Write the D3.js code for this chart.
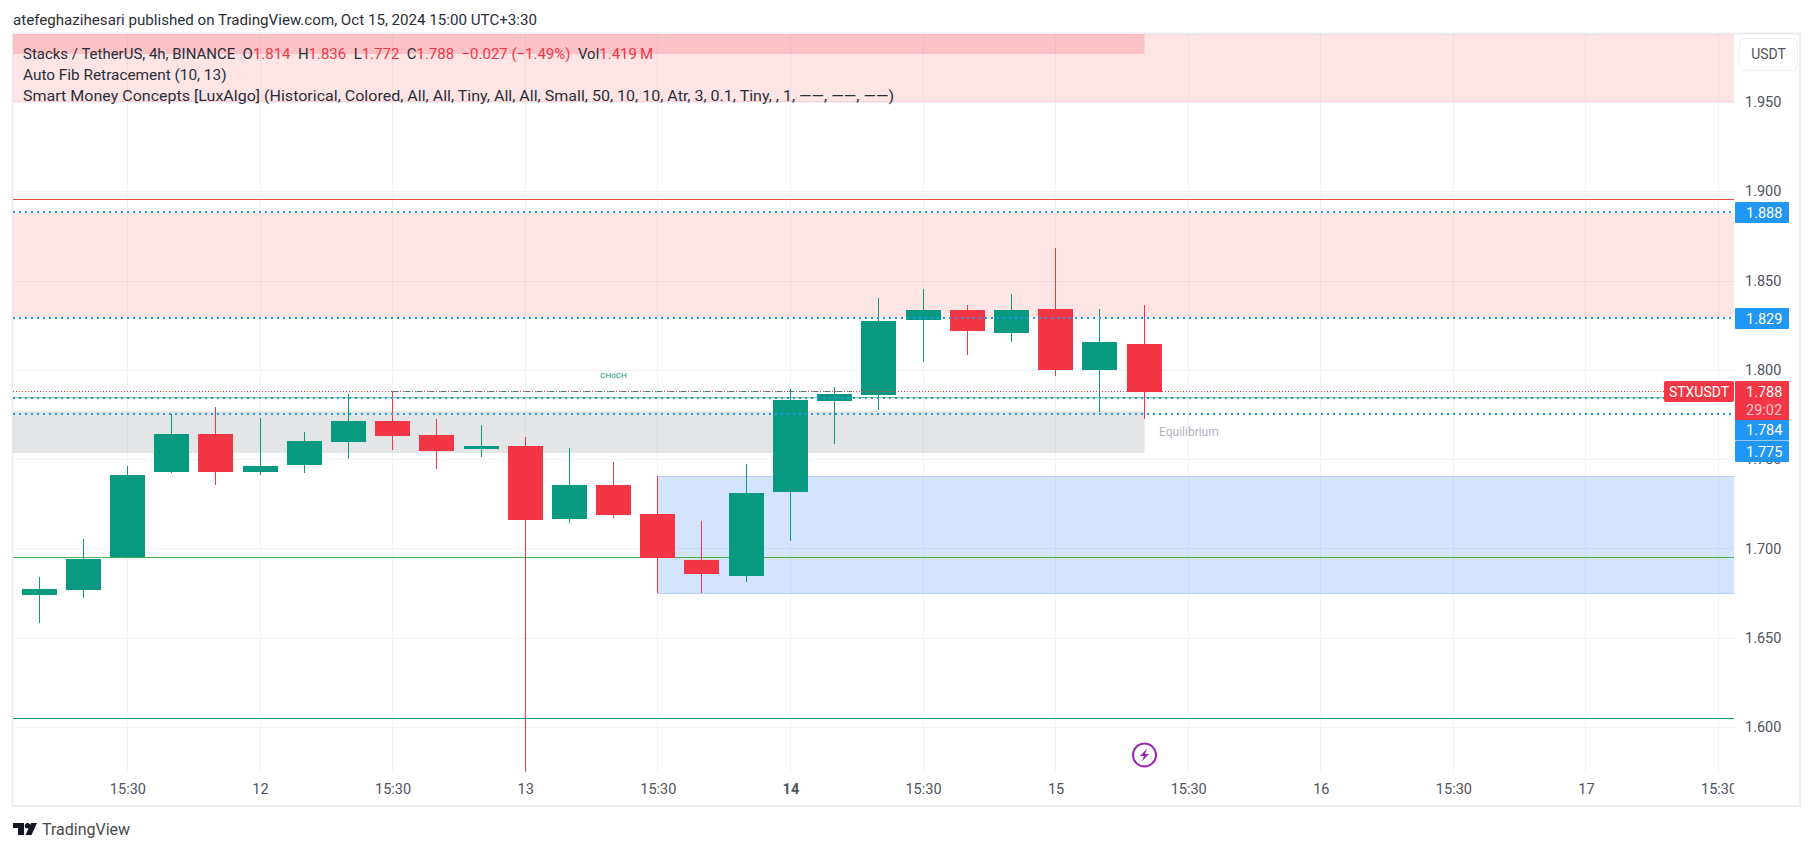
<!DOCTYPE html>
<html>
<head>
<meta charset="utf-8">
<script src="https://cdn.jsdelivr.net/npm/d3@7"></script>
<style>
  html, body { margin: 0; padding: 0; background: #fff; }
  svg { display: block; }
  text { font-family: Roboto, sans-serif; }
</style>
</head>
<body>
<div id="chart"></div>
<script>
// 4h candles, oldest first
const opens  = [1.6739, 1.6767, 1.6950, 1.7428, 1.7641, 1.7428, 1.7467, 1.7596, 1.7714, 1.7635, 1.7557, 1.7574, 1.7165, 1.7355, 1.7193, 1.6935, 1.6846, 1.7316, 1.7826, 1.7859, 1.8279, 1.8335, 1.8206, 1.8341, 1.7999, 1.8145];
const highs  = [1.6840, 1.7053, 1.7462, 1.7753, 1.7792, 1.7730, 1.7652, 1.7865, 1.7878, 1.7725, 1.7691, 1.7624, 1.7562, 1.7484, 1.7406, 1.7154, 1.7473, 1.7893, 1.7904, 1.8402, 1.8453, 1.8363, 1.8425, 1.8682, 1.8341, 1.8363];
const lows   = [1.6582, 1.6722, 1.6950, 1.7422, 1.7355, 1.7411, 1.7422, 1.7501, 1.7551, 1.7445, 1.7512, 1.5750, 1.7142, 1.7170, 1.6750, 1.6750, 1.6812, 1.7042, 1.7585, 1.7775, 1.8044, 1.8083, 1.8156, 1.7966, 1.7764, 1.7725];
const closes = [1.6773, 1.6941, 1.7411, 1.7641, 1.7428, 1.7462, 1.7602, 1.7714, 1.7630, 1.7546, 1.7574, 1.7159, 1.7355, 1.7187, 1.6946, 1.6857, 1.7310, 1.7831, 1.7865, 1.8274, 1.8335, 1.8218, 1.8335, 1.7999, 1.8156, 1.7876];

const priceTicks = [1.95, 1.9, 1.85, 1.8, 1.75, 1.7, 1.65, 1.6];
const timeTickBars = [2, 5, 8, 11, 14, 17, 20, 23, 26, 29, 32, 35, 38];
const timeTickLabels = ['15:30', '12', '15:30', '13', '15:30', '14', '15:30', '15', '15:30', '16', '15:30', '17', '15:30'];

const width = 1814;
const height = 851;
const plot = { left: 13, right: 1734, top: 34, bottom: 772 };

const UP = '#089981';
const DOWN = '#f23645';
const BLUE = '#2196f3';

const x = d3.scaleLinear().domain([0, 38]).range([39, 1718.6]);
const y = d3.scaleLinear().domain([1.6, 1.9]).range([727, 191.3]);
const bodyWidth = 35;

// snap to a pixel column or row so 1px lines stay crisp
const px = v => Math.floor(x(v)) + 0.5;
const py = v => Math.round(y(v)) + 0.5;

const candles = opens.map((o, i) => ({ i, o, h: highs[i], l: lows[i], c: closes[i], up: closes[i] >= o }));

const svg = d3.select('#chart').append('svg')
  .attr('width', width)
  .attr('height', height);

svg.append('defs').append('clipPath').attr('id', 'plot-clip')
  .append('rect')
  .attr('x', plot.left).attr('y', plot.top)
  .attr('width', plot.right - plot.left).attr('height', plot.bottom - plot.top);
svg.select('defs').append('clipPath').attr('id', 'time-clip')
  .append('rect')
  .attr('x', plot.left).attr('y', plot.bottom)
  .attr('width', plot.right - plot.left).attr('height', 34);

// published-on line
svg.append('text')
  .attr('x', 13).attr('y', 25)
  .attr('font-size', 15)
  .attr('textLength', 524).attr('lengthAdjust', 'spacingAndGlyphs')
  .attr('fill', '#2a2e39')
  .text('atefeghazihesari published on TradingView.com, Oct 15, 2024 15:00 UTC+3:30');

// frame
svg.append('rect')
  .attr('x', 12.5).attr('y', 33.5)
  .attr('width', 1787.5).attr('height', 772.5)
  .attr('fill', 'none')
  .attr('stroke', '#eeeef3')
  .attr('stroke-width', 2);

// grid
const grid = svg.append('g').attr('stroke', '#f0f3fa').attr('stroke-width', 1);
grid.selectAll('line.h').data(priceTicks).enter().append('line')
  .attr('class', 'h')
  .attr('x1', plot.left).attr('x2', plot.right)
  .attr('y1', d => py(d)).attr('y2', d => py(d));
grid.selectAll('line.v').data(timeTickBars).enter().append('line')
  .attr('class', 'v')
  .attr('y1', plot.top).attr('y2', plot.bottom)
  .attr('x1', d => px(d)).attr('x2', d => px(d));

const chart = svg.append('g').attr('clip-path', 'url(#plot-clip)');

// zones: from bar, to bar (null = edge of the pane), top price, bottom price
const zoneTops    = [1.9887, 1.9887, 1.8880, 1.7770, 1.7404];
const zoneBottoms = [1.9507, 1.9771, 1.8298, 1.7536, 1.6752];
const zoneFrom    = [null, null, null, null, 14];
const zoneTo      = [null, 25, null, 25, null];
const zoneFills   = ['rgba(239,83,80,0.15)', 'rgba(242,54,69,0.2)', 'rgba(239,83,80,0.15)', 'rgba(120,123,134,0.2)', 'rgba(33,110,243,0.19)'];

const zoneLeft = i => zoneFrom[i] === null ? plot.left : px(zoneFrom[i]);
const zoneRight = i => zoneTo[i] === null ? plot.right : px(zoneTo[i]);

chart.selectAll('rect.zone').data(zoneTops).enter().append('rect')
  .attr('class', 'zone')
  .attr('x', (d, i) => zoneLeft(i))
  .attr('y', d => Math.round(y(d)))
  .attr('width', (d, i) => zoneRight(i) - zoneLeft(i))
  .attr('height', (d, i) => Math.round(y(zoneBottoms[i])) - Math.round(y(d)))
  .attr('fill', (d, i) => zoneFills[i]);

// blue zone edges, pink zone lower edge
[[1.7404, '#b2ccfb'], [1.6752, '#b2ccfb'], [1.9507, '#fbd0d3']].forEach(([v, c]) => {
  chart.append('line')
    .attr('x1', v === 1.9507 ? plot.left : px(14)).attr('x2', plot.right)
    .attr('y1', py(v)).attr('y2', py(v))
    .attr('stroke', c);
});

// fib and structure levels
const levelValues = [1.8955, 1.7846, 1.6950, 1.6053];
const levelColors = ['#e8503f', '#81c784', '#4caf50', '#089981'];
chart.selectAll('line.level').data(levelValues).enter().append('line')
  .attr('class', 'level')
  .attr('x1', plot.left).attr('x2', plot.right)
  .attr('y1', d => py(d)).attr('y2', d => py(d))
  .attr('stroke', (d, i) => levelColors[i]);

// CHoCH break line
chart.append('line')
  .attr('x1', px(8)).attr('x2', px(18) + bodyWidth / 2)
  .attr('y1', py(1.788)).attr('y2', py(1.788))
  .attr('stroke', UP)
  .attr('stroke-dasharray', '6,6');

chart.append('text')
  .attr('x', px(13)).attr('y', 378)
  .attr('text-anchor', 'middle')
  .attr('font-size', 8)
  .attr('fill', UP)
  .text('CHoCH');

chart.append('text')
  .attr('x', 1159).attr('y', 436)
  .attr('font-size', 12)
  .attr('fill', '#b2b5be')
  .text('Equilibrium');

// candles
const candle = chart.selectAll('g.candle').data(candles).enter().append('g')
  .attr('class', 'candle')
  .attr('fill', d => d.up ? UP : DOWN)
  .attr('stroke', d => d.up ? UP : DOWN);

candle.append('line')
  .attr('x1', d => px(d.i)).attr('x2', d => px(d.i))
  .attr('y1', d => y(d.h)).attr('y2', d => y(d.l));

candle.append('rect')
  .attr('stroke', 'none')
  .attr('x', d => px(d.i) - bodyWidth / 2)
  .attr('y', d => Math.round(y(Math.max(d.o, d.c))))
  .attr('width', bodyWidth)
  .attr('height', d => Math.max(1, Math.round(y(Math.min(d.o, d.c))) - Math.round(y(Math.max(d.o, d.c)))));

// dotted price lines
chart.append('line')
  .attr('x1', plot.left).attr('x2', 1664)
  .attr('y1', py(1.788)).attr('y2', py(1.788))
  .attr('stroke', DOWN)
  .attr('stroke-dasharray', '1,2');

const dottedLevels = [1.888, 1.829, 1.784, 1.775];
chart.selectAll('line.dotted').data(dottedLevels).enter().append('line')
  .attr('class', 'dotted')
  .attr('x1', plot.left).attr('x2', plot.right)
  .attr('y1', d => Math.floor(y(d))).attr('y2', d => Math.floor(y(d)))
  .attr('stroke', BLUE)
  .attr('stroke-width', 2)
  .attr('stroke-dasharray', '2,4');

// price axis
const priceAxis = d3.axisRight(y)
  .tickValues(priceTicks)
  .tickFormat(d3.format('.3f'))
  .tickSize(0)
  .tickPadding(0);
const priceG = svg.append('g')
  .attr('transform', 'translate(1745,0)')
  .call(priceAxis);
priceG.select('.domain').remove();
priceG.selectAll('text')
  .attr('font-family', 'Roboto, sans-serif')
  .attr('font-size', 14.5)
  .attr('fill', '#50535e');

// time axis
const timeAxis = d3.axisBottom(x)
  .tickValues(timeTickBars)
  .tickFormat((d, i) => timeTickLabels[i])
  .tickSize(0)
  .tickPadding(0);
const timeG = svg.append('g')
  .attr('clip-path', 'url(#time-clip)')
  .append('g')
  .attr('transform', `translate(0,${plot.bottom + 12})`)
  .call(timeAxis);
timeG.select('.domain').remove();
timeG.selectAll('text')
  .attr('font-family', 'Roboto, sans-serif')
  .attr('font-size', 14.5)
  .attr('fill', '#50535e')
  .attr('font-weight', (d, i) => timeTickLabels[i] === '14' ? 700 : 400);

// tags on the price scale; the lower two sit below their level like in the picture
const tagValues = [1.888, 1.829, 1.784, 1.775];
const tagTexts = ['1.888', '1.829', '1.784', '1.775'];
const tagCenters = [212.5, 318.5, 430, 451.5];
const tags = svg.append('g');
tags.selectAll('rect').data(tagValues).enter().append('rect')
  .attr('x', 1735).attr('width', 54)
  .attr('y', (d, i) => tagCenters[i] - 10.5).attr('height', 21)
  .attr('rx', 1)
  .attr('fill', BLUE);
tags.selectAll('text').data(tagTexts).enter().append('text')
  .attr('x', 1746).attr('y', (d, i) => tagCenters[i] + 5)
  .attr('font-size', 14.5)
  .attr('fill', '#fff')
  .text(d => d);

svg.append('rect')
  .attr('x', 1664).attr('y', 381).attr('width', 70).attr('height', 21)
  .attr('rx', 2)
  .attr('fill', DOWN);
svg.append('text')
  .attr('x', 1699).attr('y', 396.5)
  .attr('text-anchor', 'middle')
  .attr('font-size', 14)
  .attr('fill', '#fff')
  .text('STXUSDT');
svg.append('rect')
  .attr('x', 1735).attr('y', 381).attr('width', 54).attr('height', 39)
  .attr('rx', 1)
  .attr('fill', DOWN);
svg.append('text')
  .attr('x', 1746).attr('y', 397)
  .attr('font-size', 14.5)
  .attr('fill', '#fff')
  .text('1.788');
svg.append('text')
  .attr('x', 1746).attr('y', 415)
  .attr('font-size', 14.5)
  .attr('fill', '#fbc8cc')
  .text('29:02');

// USDT button
svg.append('rect')
  .attr('x', 1739.5).attr('y', 38.5).attr('width', 58).attr('height', 32)
  .attr('rx', 5)
  .attr('fill', '#fff')
  .attr('stroke', '#eceef4');
svg.append('text')
  .attr('x', 1768.5).attr('y', 59)
  .attr('text-anchor', 'middle')
  .attr('font-size', 14)
  .attr('fill', '#50535e')
  .text('USDT');

// legend
const legend = svg.append('g').attr('font-size', 15).attr('fill', '#2a2e39');
const line1 = legend.append('text').attr('x', 23).attr('y', 59)
  .attr('textLength', 630).attr('lengthAdjust', 'spacingAndGlyphs');
[
  ['Stacks / TetherUS, 4h, BINANCE\u00a0\u00a0O', null],
  ['1.814', DOWN], ['\u00a0\u00a0H', null],
  ['1.836', DOWN], ['\u00a0\u00a0L', null],
  ['1.772', DOWN], ['\u00a0\u00a0C', null],
  ['1.788', DOWN], ['\u00a0\u00a0', null],
  ['\u22120.027 (\u22121.49%)', DOWN], ['\u00a0\u00a0Vol', null],
  ['1.419\u2009M', DOWN]
].forEach(([t, c]) => {
  line1.append('tspan').attr('fill', c || '#2a2e39').text(t);
});
legend.append('text').attr('x', 23).attr('y', 80)
  .attr('textLength', 203.5).attr('lengthAdjust', 'spacingAndGlyphs')
  .text('Auto Fib Retracement (10, 13)');
legend.append('text').attr('x', 23).attr('y', 101)
  .attr('textLength', 871).attr('lengthAdjust', 'spacingAndGlyphs')
  .text('Smart Money Concepts [LuxAlgo] (Historical, Colored, All, All, Tiny, All, All, Small, 50, 10, 10, Atr, 3, 0.1, Tiny, , 1, \u2014\u2014, \u2014\u2014, \u2014\u2014)');

// replay / lightning marker
const bolt = svg.append('g').attr('transform', 'translate(1144.5,755)');
bolt.append('circle').attr('r', 11.5).attr('fill', '#fff').attr('stroke', '#9c27b0').attr('stroke-width', 2);
bolt.append('path').attr('d', 'M2.5,-6.5 L-4.5,1 L-0.5,1 L-2.5,6.5 L4.5,-1 L0.5,-1 Z').attr('fill', '#9c27b0');

// TradingView footer
const logo = svg.append('g').attr('transform', 'translate(13,823)').attr('fill', '#131722');
logo.append('path').attr('d', 'M0,0 H11 V12 H5 V5 H0 Z');
logo.append('circle').attr('cx', 14.5).attr('cy', 2.7).attr('r', 2.7);
logo.append('path').attr('d', 'M18,0 H24 L18.5,12 H12.5 Z');
svg.append('text')
  .attr('x', 42).attr('y', 835)
  .attr('font-size', 16)
  .attr('fill', '#4a4a4a')
  .text('TradingView');
</script>
</body>
</html>
